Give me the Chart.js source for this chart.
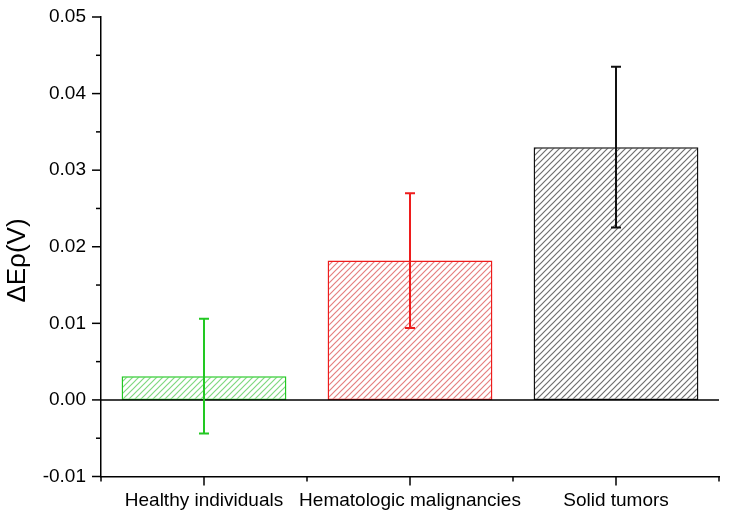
<!DOCTYPE html>
<html>
<head>
<meta charset="utf-8">
<script src="https://cdn.jsdelivr.net/npm/chart.js@4"></script>
<style>
  html, body { margin: 0; padding: 0; background: #fff; }
  #wrap { width: 733px; height: 522px; }
</style>
</head>
<body>
<div id="wrap"><canvas id="chart" width="733" height="522"></canvas></div>
<script>
// data
const categories = ['Healthy individuals', 'Hematologic malignancies', 'Solid tumors'];
const means = [0.0031, 0.0182, 0.0330];
const errors = [0.0075, 0.0088, 0.0105];
const yTicks = [-0.01, 0.00, 0.01, 0.02, 0.03, 0.04, 0.05];
const yTitle = 'ΔEρ(V)';
const edgeColors = ['#22c822', '#ee1c1c', '#111111'];
const hatchColors = ['#7fd87f', '#e57f7f', '#6f6f6f'];

const FONT = 'Arial, "Liberation Sans", sans-serif';

function hatch(color) {
    const size = 6;
    const c = document.createElement('canvas');
    c.width = size; c.height = size;
    const g = c.getContext('2d');
    g.fillStyle = '#fff';
    g.fillRect(0, 0, size, size);
    g.strokeStyle = color;
    g.lineWidth = 1.2;
    g.beginPath();
    g.moveTo(-1, size + 1); g.lineTo(size + 1, -1);
    g.moveTo(-1, 1); g.lineTo(1, -1);
    g.moveTo(size - 1, size + 1); g.lineTo(size + 1, size - 1);
    g.stroke();
    return g.createPattern(c, 'repeat');
}

// ticks, zero line, error bars and y title
const extras = {
    id: 'extras',
    afterDatasetsDraw(chart) {
        const ctx = chart.ctx;
        const area = chart.chartArea;
        const x = chart.scales.x;
        const y = chart.scales.y;
        ctx.save();
        ctx.strokeStyle = '#000';
        ctx.lineWidth = 1.5;

        // zero line
        const y0 = y.getPixelForValue(0);
        ctx.beginPath();
        ctx.moveTo(area.left, y0); ctx.lineTo(area.right, y0);
        ctx.stroke();

        // y ticks, major and minor
        for (let v = y.min; v <= y.max + 1e-9; v += 0.005) {
            const py = y.getPixelForValue(v);
            const major = Math.abs(Math.round(v * 100) - v * 100) < 1e-6;
            ctx.beginPath();
            ctx.moveTo(area.left, py); ctx.lineTo(area.left - (major ? 9 : 5), py);
            ctx.stroke();
        }

        // x ticks: centres major, edges minor
        const step = (area.right - area.left) / categories.length;
        for (let i = 0; i <= categories.length; i++) {
            const px = area.left + i * step;
            ctx.beginPath();
            ctx.moveTo(px, area.bottom); ctx.lineTo(px, area.bottom + 5);
            ctx.stroke();
        }
        categories.forEach((c, i) => {
            const px = x.getPixelForValue(i);
            ctx.beginPath();
            ctx.moveTo(px, area.bottom); ctx.lineTo(px, area.bottom + 9);
            ctx.stroke();
        });

        // error bars
        const meta = chart.getDatasetMeta(0);
        meta.data.forEach((bar, i) => {
            const top = y.getPixelForValue(means[i] + errors[i]);
            const bot = y.getPixelForValue(means[i] - errors[i]);
            ctx.strokeStyle = edgeColors[i];
            ctx.lineWidth = 2;
            ctx.beginPath();
            ctx.moveTo(bar.x, top); ctx.lineTo(bar.x, bot);
            ctx.moveTo(bar.x - 5, top); ctx.lineTo(bar.x + 5, top);
            ctx.moveTo(bar.x - 5, bot); ctx.lineTo(bar.x + 5, bot);
            ctx.stroke();
        });

        // y axis title, sitting a little below the middle as in the original
        ctx.translate(18, y.getPixelForValue(0.0182));
        ctx.rotate(-Math.PI / 2);
        ctx.fillStyle = '#000';
        ctx.font = '26px ' + FONT;
        ctx.textAlign = 'center';
        ctx.textBaseline = 'middle';
        ctx.fillText(yTitle, 0, 0);
        ctx.restore();
    }
};

new Chart(document.getElementById('chart').getContext('2d'), {
    type: 'bar',
    data: {
        labels: categories,
        datasets: [{
            data: means,
            backgroundColor: hatchColors.map(hatch),
            borderColor: edgeColors,
            borderWidth: 1.5,
            borderSkipped: false,
            barPercentage: 0.8,
            categoryPercentage: 1.0
        }]
    },
    options: {
        responsive: false,
        animation: false,
        layout: { padding: { top: 17, right: 14, left: 0, bottom: 0 } },
        plugins: { legend: { display: false }, tooltip: { enabled: false } },
        scales: {
            x: {
                afterFit: (s) => { s.height = 45.5; },
                grid: { display: false, drawTicks: false },
                border: { display: true, color: '#000', width: 1.5 },
                ticks: { color: '#000', padding: 13, font: { family: FONT, size: 19 }, maxRotation: 0, autoSkip: false }
            },
            y: {
                min: -0.01,
                max: 0.05,
                afterFit: (s) => { s.width = 101; s.paddingTop = 0; s.paddingBottom = 0; },
                afterBuildTicks: (axis) => { axis.ticks = yTicks.map(v => ({ value: v })); },
                grid: { display: false, drawTicks: false },
                border: { display: true, color: '#000', width: 1.5 },
                ticks: {
                    color: '#000',
                    padding: 15,
                    font: { family: FONT, size: 19 },
                    callback: (v) => Number(v).toFixed(2)
                }
            }
        }
    },
    plugins: [extras]
});
</script>
</body>
</html>
